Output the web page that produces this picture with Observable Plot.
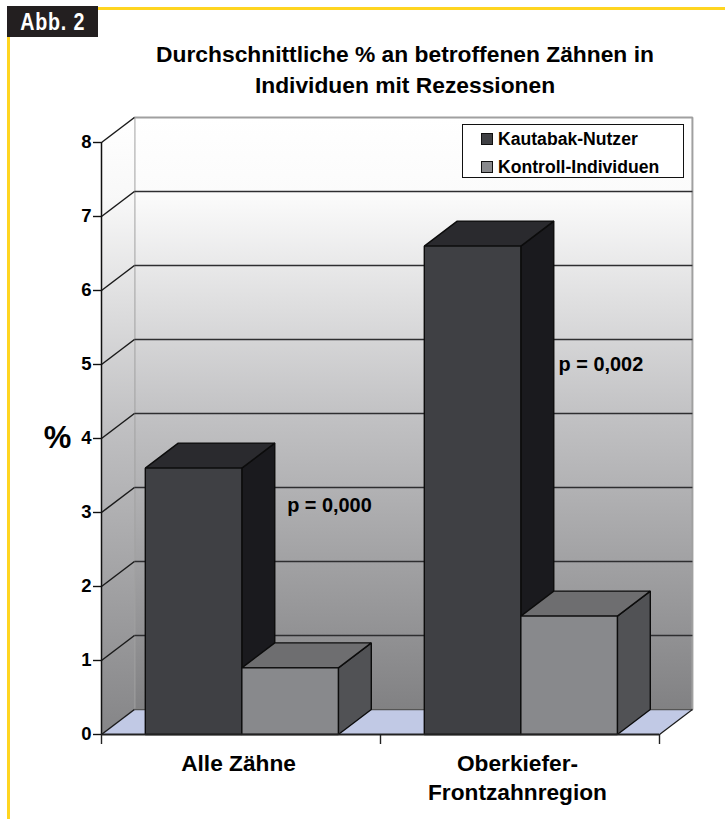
<!DOCTYPE html>
<html lang="de">
<head>
<meta charset="utf-8">
<script src="https://cdn.jsdelivr.net/npm/d3@7"></script>
<script src="https://cdn.jsdelivr.net/npm/@observablehq/plot@0.6"></script>
<style>
html,body{margin:0;padding:0;background:#fff}
#page{position:relative;width:725px;height:819px;overflow:hidden;font-family:"Liberation Sans",Arial,sans-serif}
#page svg{position:absolute;left:0;top:0;overflow:visible}
.frameTop{position:absolute;left:7px;top:7px;right:0;height:2.5px;background:#ffd520}
.frameLeft{position:absolute;left:7px;top:7px;bottom:0;width:3px;background:#ffd520}
.badge{position:absolute;left:7px;top:6px;width:91px;height:31px;background:#231f20;color:#fff;font:bold 24px/31px "Liberation Sans",sans-serif;text-align:center}
.badge span{display:inline-block;transform:scaleX(.82);letter-spacing:1px;white-space:nowrap}
.title{position:absolute;left:105px;width:600px;top:39px;text-align:center;font-weight:bold;font-size:22.8px;line-height:31px;color:#000}
.legend{position:absolute;left:462px;top:124px;width:220px;height:52px;border:1.5px solid #111;background:#fff;box-sizing:content-box}
.row{position:absolute;left:18px;font-weight:bold;font-size:17.6px;line-height:20px;color:#000;white-space:nowrap}
.sw{display:inline-block;width:10px;height:10px;border:1px solid #111;margin-right:5px;vertical-align:0px}
</style>
</head>
<body>
<div id="page">
  <div class="frameTop"></div><div class="frameLeft"></div>
  <div class="badge"><span>Abb. 2</span></div>
  <div class="title">Durchschnittliche % an betroffenen Zähnen in<br>Individuen mit Rezessionen</div>
</div>
<script>
const categories = ["Alle Zähne", "Oberkiefer-\nFrontzahnregion"];
const seriesNames = ["Kautabak-Nutzer", "Kontroll-Individuen"];
const kautabak = [3.6, 6.6];
const kontroll = [0.9, 1.6];
const yTicks = [0, 1, 2, 3, 4, 5, 6, 7, 8];
const pLabels = ["p = 0,000", "p = 0,002"];
const pX = [0.817, 1.79];
const pY = [3.09, 5.0];

const yMax = 8, xMax = categories.length;
const depthX = 0.118, depthY = 0.338;   // oblique depth in data units
const gap = 0.157, barW = 0.346;

const frontColors = ["#3f4044", "#88898c"];
const topColors = ["#2a2a2e", "#6e6e70"];
const sideColors = ["#1a1a1e", "#515255"];

const P = [];
function face(fill, stroke, pts) { P.push({fill, stroke, rows: pts}); }

// walls and floor
face("url(#wallGrad)", "#a0a0a0", [[depthX, depthY], [xMax + depthX, depthY], [xMax + depthX, yMax + depthY], [depthX, yMax + depthY]]);
face("url(#sideGrad)", "none", [[0, 0], [depthX, depthY], [depthX, yMax + depthY], [0, yMax]]);
face("#c1c9e5", "none", [[0, 0], [xMax, 0], [xMax + depthX, depthY], [depthX, depthY]]);

const barFaces = [];
categories.forEach((c, i) => {
  [kautabak[i], kontroll[i]].forEach((v, s) => {
    const x0 = i + gap + s * barW, x1 = x0 + barW;
    barFaces.push({fill: sideColors[s], rows: [[x1, 0], [x1 + depthX, depthY], [x1 + depthX, v + depthY], [x1, v]]});
    barFaces.push({fill: topColors[s], rows: [[x0, v], [x1, v], [x1 + depthX, v + depthY], [x0 + depthX, v + depthY]]});
    barFaces.push({fill: frontColors[s], rows: [[x0, 0], [x1, 0], [x1, v], [x0, v]]});
  });
});

const polyMark = (f, opts = {}) => Plot.line(f.rows.map(r => ({x: r[0], y: r[1]})), {
  x: "x", y: "y", curve: "linear-closed", fill: f.fill, stroke: f.stroke ?? "#0c0c0c", strokeWidth: 1.4, strokeLinejoin: "miter", ...opts
});

const gridRows = yTicks.filter(t => t > 0 && t < yMax);
const defs = () => {
  const ns = "http://www.w3.org/2000/svg";
  const d = document.createElementNS(ns, "defs");
  d.innerHTML = `
  <linearGradient id="wallGrad" x1="0" y1="0" x2="0" y2="1">
    <stop offset="0" stop-color="#ffffff"/><stop offset="0.13" stop-color="#fbfbfb"/>
    <stop offset="0.5" stop-color="#c2c2c4"/><stop offset="1" stop-color="#818183"/>
  </linearGradient>
  <linearGradient id="sideGrad" x1="0" y1="0" x2="0" y2="1">
    <stop offset="0" stop-color="#ffffff"/><stop offset="0.13" stop-color="#f8f8f8"/>
    <stop offset="0.5" stop-color="#c0c0c2"/><stop offset="1" stop-color="#858587"/>
  </linearGradient>`;
  return d;
};

const chart = Plot.plot({
  width: 725, height: 819,
  marginLeft: 101, marginRight: 66, marginTop: 142, marginBottom: 85,
  x: {domain: [0, xMax], axis: null},
  y: {domain: [0, yMax], axis: null},
  style: {fontFamily: '"Liberation Sans",Arial,sans-serif', background: "transparent", overflow: "visible"},
  marks: [
    defs,
    ...P.map(f => polyMark(f, {strokeWidth: 2})),
    // gridlines
    Plot.link(gridRows, {x1: depthX, x2: xMax + depthX, y1: t => t + depthY, y2: t => t + depthY, stroke: "#2e2e30", strokeWidth: 1.5}),
    Plot.link(gridRows, {x1: 0, x2: depthX, y1: t => t, y2: t => t + depthY, stroke: "#1a1a1a", strokeWidth: 1.5}),
    Plot.link([0], {x1: depthX, x2: xMax + depthX, y1: depthY, y2: depthY, stroke: "#555", strokeWidth: 1.5}),
    Plot.link([0, yMax], {x1: 0, x2: depthX, y1: t => t, y2: t => t + depthY, stroke: "#1a1a1a", strokeWidth: 1.5}),
    Plot.link([0], {x1: xMax, x2: xMax + depthX, y1: 0, y2: depthY, stroke: "#1a1a1a", strokeWidth: 1.2}),
    ...barFaces.map(f => polyMark(f)),
    // axes
    Plot.ruleX([0], {y1: 0, y2: yMax, stroke: "#111", strokeWidth: 1.5}),
    Plot.ruleY([0], {x1: 0, x2: xMax, stroke: "#222", strokeWidth: 2}),
    Plot.axisY(yTicks, {anchor: "left", tickSize: 8, tickPadding: 2, tickFormat: d => d, label: null, fontSize: 18.5, fontWeight: "bold", stroke: "#111", strokeWidth: 1.4, fill: "#000"}),
    Plot.axisX(d3.range(0, xMax + 1), {anchor: "bottom", tickSize: 10, tickFormat: () => "", label: null, stroke: "#222", strokeWidth: 1.4}),
    Plot.axisX(categories.map((c, i) => i + 0.5), {anchor: "bottom", tickSize: 0, tickPadding: 16, label: null, lineHeight: 1.28, dx: -2.5,
      tickFormat: d => categories[Math.floor(d)], fontSize: 22.7, fontWeight: "bold", fill: "#000"}),
    // annotations
    Plot.text(pLabels, {x: (d, i) => pX[i], y: (d, i) => pY[i], text: d => d, fontSize: 19.9, fontWeight: "bold", fill: "#000"}),
    Plot.text(["%"], {x: -0.158, y: 4, text: d => d, fontSize: 31, fontWeight: "bold", fill: "#000"})
  ]
});
const page = document.getElementById("page");
page.insertBefore(chart, page.querySelector(".badge"));

// legend
const legend = document.createElement("div");
legend.className = "legend";
seriesNames.forEach((n, i) => {
  const r = document.createElement("div");
  r.className = "row";
  r.style.top = (4 + i * 27.5) + "px";
  r.innerHTML = `<span class="sw" style="background:${frontColors[i]}"></span>${n}`;
  legend.appendChild(r);
});
page.appendChild(legend);
</script>
</body>
</html>
